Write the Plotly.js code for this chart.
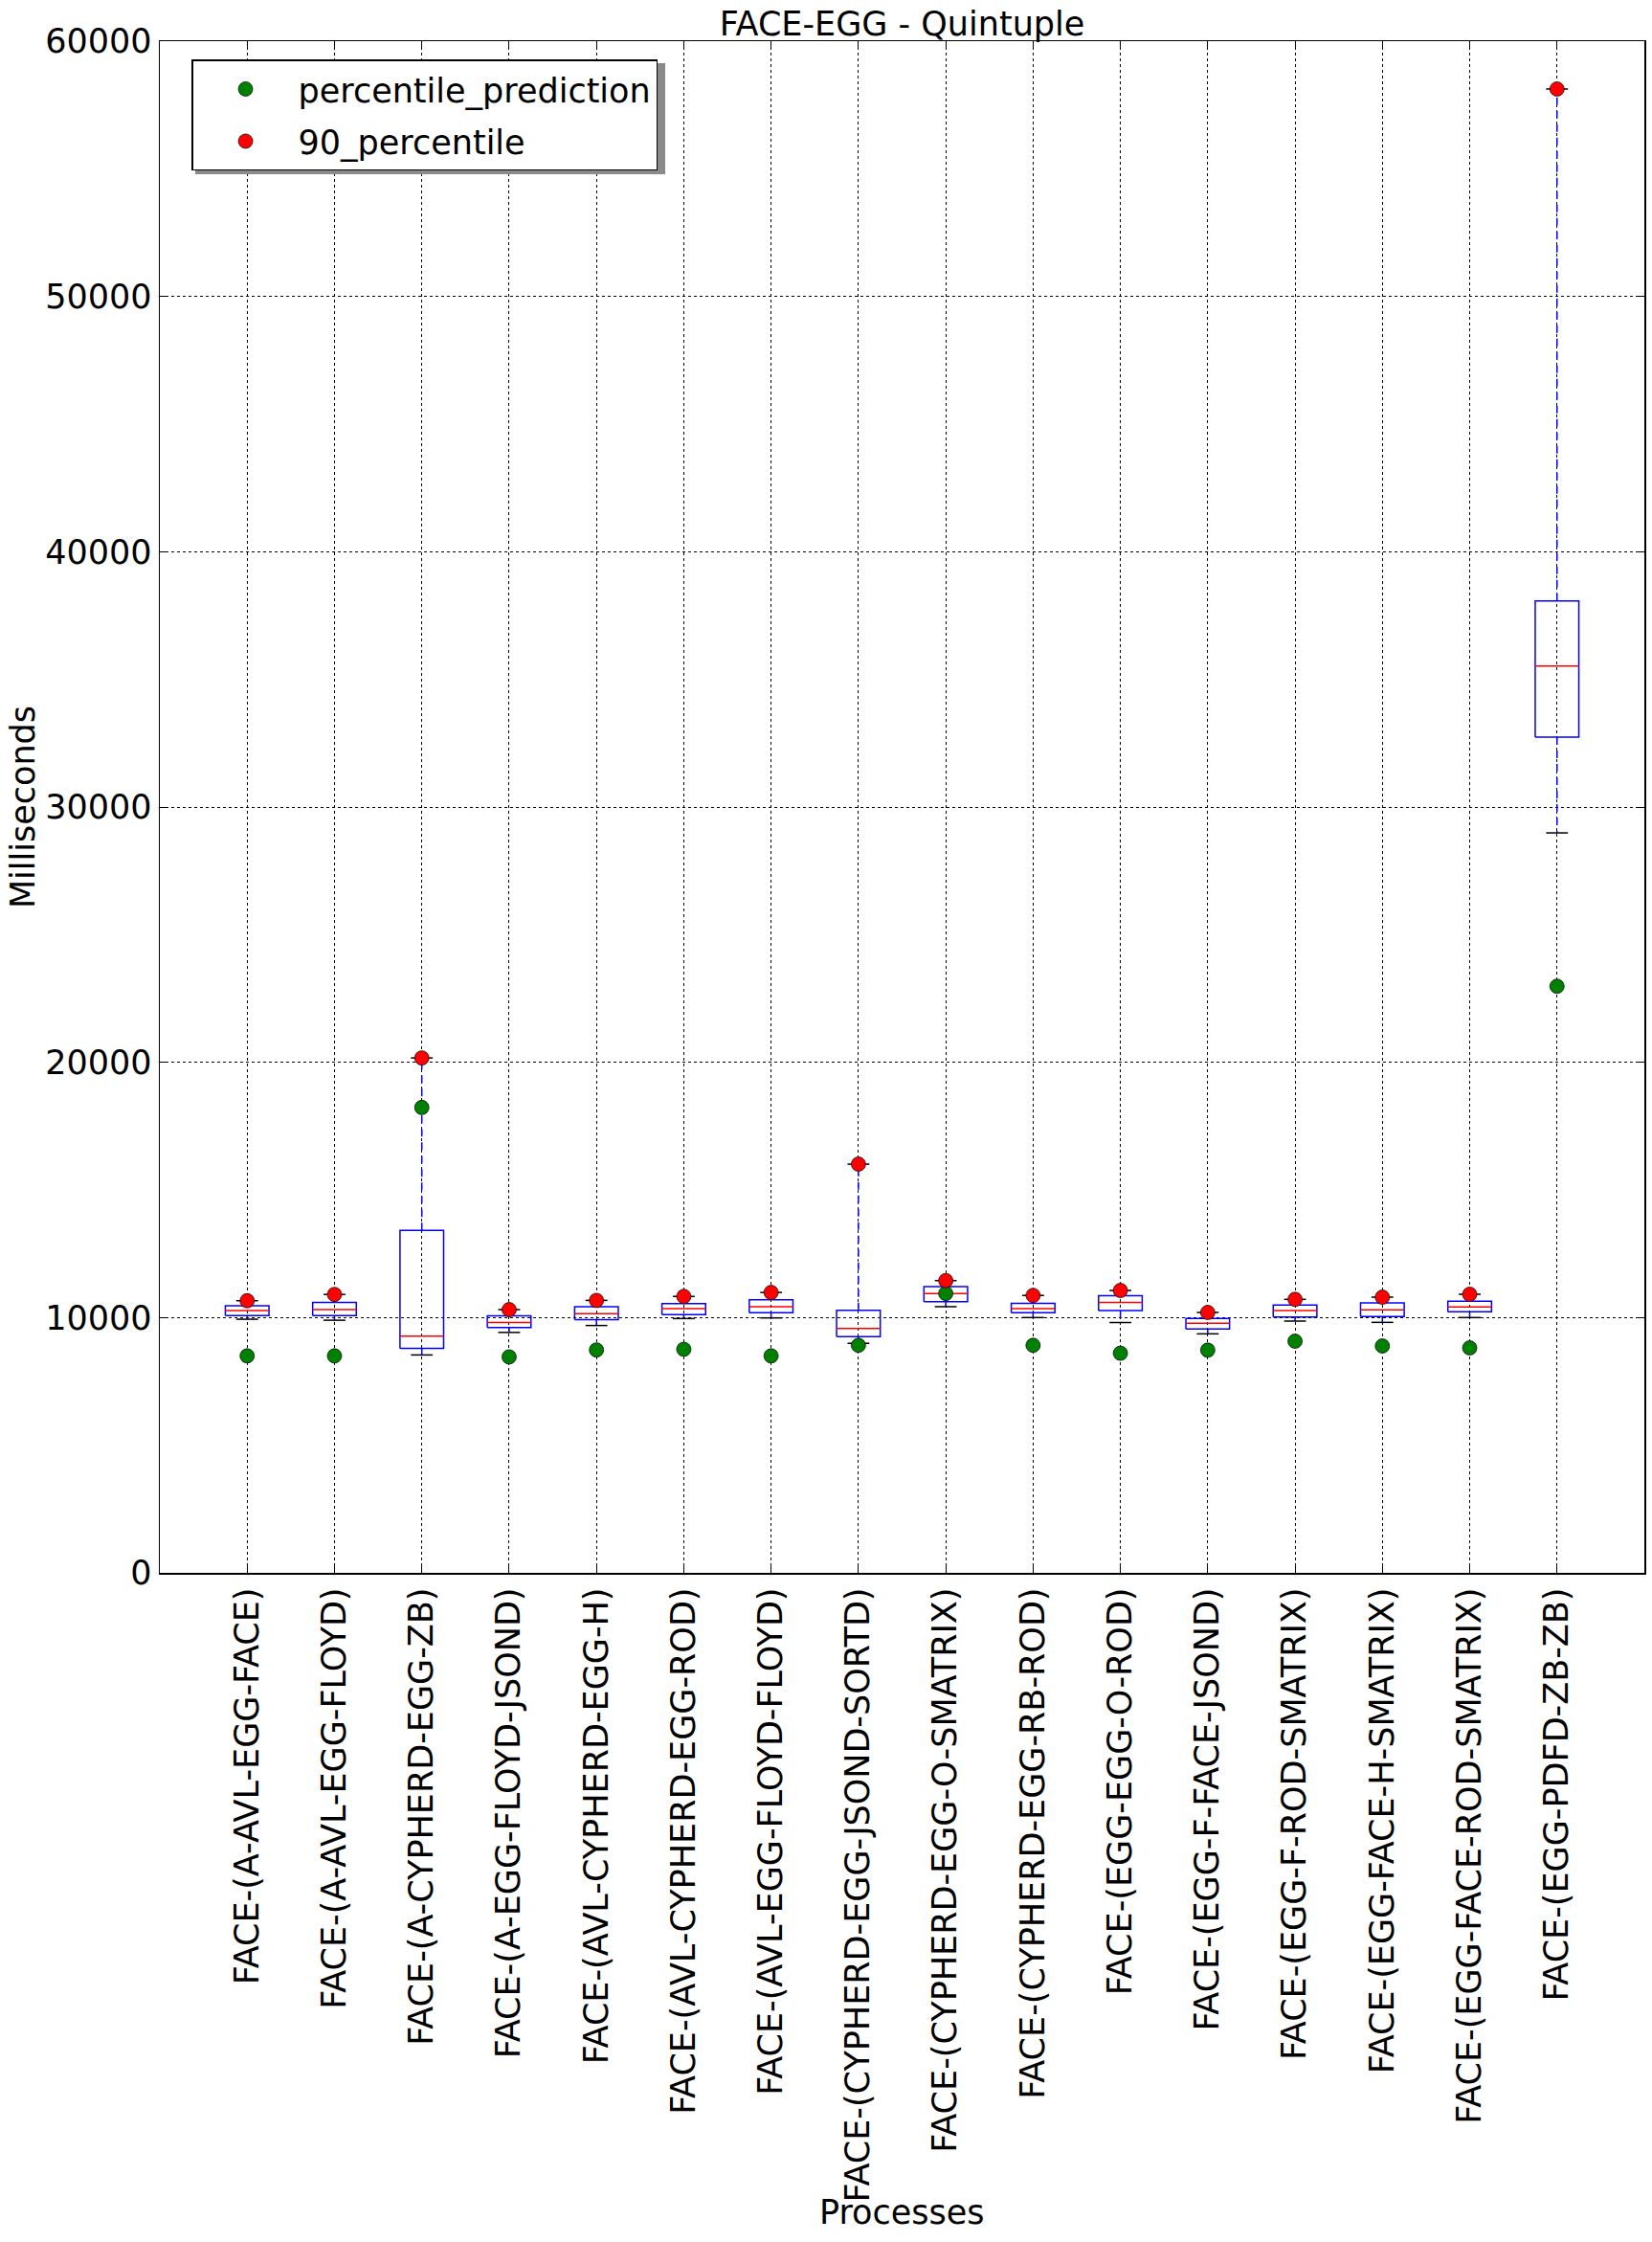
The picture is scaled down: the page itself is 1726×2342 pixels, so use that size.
<!DOCTYPE html>
<html>
<head>
<meta charset="utf-8">
<script src="https://cdn.plot.ly/plotly-3.0.1.min.js"></script>
<style>html,body{margin:0;padding:0;background:#fff}</style>
</head>
<body>
<div id="chart" style="width:1726px;height:2342px"></div>
<script>
const categories = [
  "FACE-(A-AVL-EGG-FACE)",
  "FACE-(A-AVL-EGG-FLOYD)",
  "FACE-(A-CYPHERD-EGG-ZB)",
  "FACE-(A-EGG-FLOYD-JSOND)",
  "FACE-(AVL-CYPHERD-EGG-H)",
  "FACE-(AVL-CYPHERD-EGG-ROD)",
  "FACE-(AVL-EGG-FLOYD-FLOYD)",
  "FACE-(CYPHERD-EGG-JSOND-SORTD)",
  "FACE-(CYPHERD-EGG-O-SMATRIX)",
  "FACE-(CYPHERD-EGG-RB-ROD)",
  "FACE-(EGG-EGG-O-ROD)",
  "FACE-(EGG-F-FACE-JSOND)",
  "FACE-(EGG-F-ROD-SMATRIX)",
  "FACE-(EGG-FACE-H-SMATRIX)",
  "FACE-(EGG-FACE-ROD-SMATRIX)",
  "FACE-(EGG-PDFD-ZB-ZB)"
];
const q1 =            [10078, 10078, 8790, 9612, 9922, 10116, 10194, 9249, 10621, 10194, 10272, 9550, 10025, 10038, 10225, 32741];
const medians =       [10272, 10311, 9275, 9806, 10155, 10349, 10427, 9573, 10945, 10349, 10595, 9775, 10275, 10300, 10413, 35520];
const q3 =            [10466, 10595, 13415, 10065, 10427, 10543, 10699, 10285, 11216, 10556, 10854, 9962, 10488, 10575, 10638, 38073];
const lowerWhisker =  [9935, 9896, 8535, 9418, 9689, 9961, 9987, 8991, 10427, 10000, 9806, 9362, 9862, 9812, 10000, 28986];
const upperWhisker =  [10660, 10906, 20170, 10311, 10673, 10828, 10983, 16010, 11449, 10867, 11061, 10200, 10713, 10800, 10913, 58126];
const percentile90 =  [10660, 10906, 20170, 10311, 10673, 10828, 10983, 16010, 11449, 10867, 11061, 10200, 10713, 10800, 10913, 58126];
const percentilePrediction = [8499, 8499, 18230, 8460, 8732, 8758, 8499, 8913, 10945, 8913, 8602, 8724, 9074, 8887, 8812, 22978];
const yTicks = [0, 10000, 20000, 30000, 40000, 50000, 60000];

const positions = categories.map((c, i) => i + 1);
const boxHalf = 0.25, capHalf = 0.125;

const boxX = [], boxY = [], whX = [], whY = [], capX = [], capY = [], medX = [], medY = [];
positions.forEach((p, i) => {
  boxX.push(p - boxHalf, p + boxHalf, p + boxHalf, p - boxHalf, p - boxHalf, null);
  boxY.push(q1[i], q1[i], q3[i], q3[i], q1[i], null);
  whX.push(p, p, null, p, p, null);
  whY.push(q3[i], upperWhisker[i], null, q1[i], lowerWhisker[i], null);
  capX.push(p - capHalf, p + capHalf, null, p - capHalf, p + capHalf, null);
  capY.push(upperWhisker[i], upperWhisker[i], null, lowerWhisker[i], lowerWhisker[i], null);
  medX.push(p - boxHalf, p + boxHalf, null);
  medY.push(medians[i], medians[i], null);
});

const FONT = "DejaVu Sans, Verdana, sans-serif";

const traces = [
  {type: "scatter", mode: "lines", x: whX, y: whY, line: {color: "blue", width: 1.5, dash: "8px,6px"}, showlegend: false, hoverinfo: "skip"},
  {type: "scatter", mode: "lines", x: boxX, y: boxY, line: {color: "blue", width: 1.5}, showlegend: false, hoverinfo: "skip"},
  {type: "scatter", mode: "lines", x: capX, y: capY, line: {color: "black", width: 1.5}, showlegend: false, hoverinfo: "skip"},
  {type: "scatter", mode: "lines", x: medX, y: medY, line: {color: "red", width: 1.5}, showlegend: false, hoverinfo: "skip"},
  {type: "scatter", mode: "markers", name: "percentile_prediction", legendgroup: "a", x: positions, y: percentilePrediction,
   marker: {color: "green", size: 15, line: {color: "black", width: 0.7}}},
  {type: "scatter", mode: "markers", name: "90_percentile", legendgroup: "b", x: positions, y: percentile90,
   marker: {color: "red", size: 15, line: {color: "black", width: 0.7}}}
];

const axisCommon = {
  showline: true, linecolor: "black", linewidth: 1.5, mirror: "allticks",
  ticks: "inside", ticklen: 7, tickwidth: 1, tickcolor: "black",
  showgrid: true, gridcolor: "black", gridwidth: 1, griddash: "dot",
  zeroline: false, automargin: false,
  tickfont: {family: FONT, size: 35, color: "black"}
};

const layout = {
  width: 1726, height: 2342,
  margin: {l: 167, r: 8, t: 43, b: 699, pad: 0},
  paper_bgcolor: "white", plot_bgcolor: "white",
  font: {family: FONT, size: 35, color: "black"},
  title: {text: "FACE-EGG - Quintuple", font: {family: FONT, size: 35, color: "black"},
          x: 0.5, xref: "paper", y: 1, yref: "paper", yanchor: "bottom", pad: {b: 6}},
  xaxis: Object.assign({}, axisCommon, {
    range: [0, categories.length + 1],
    tickmode: "array", tickvals: positions, ticktext: categories, tickangle: -90
  }),
  yaxis: Object.assign({}, axisCommon, {
    range: [0, 60000], tickmode: "array", tickvals: yTicks, ticktext: yTicks.map(String),
    title: {text: "Milliseconds", font: {family: FONT, size: 35, color: "black"}, standoff: 0}
  }),
  showlegend: true,
  legend: {x: 0.0213, y: 0.988, xanchor: "left", yanchor: "top", bgcolor: "white",
           bordercolor: "black", borderwidth: 1.5, font: {family: FONT, size: 35, color: "black"},
           itemwidth: 100, traceorder: "grouped", tracegroupgap: 6},
  shapes: [{type: "rect", xref: "paper", yref: "paper", layer: "above",
            x0: (204 - 167) / 1551, x1: (695 - 167) / 1551,
            y0: (1643 - 182) / 1600, y1: (1643 - 66) / 1600,
            fillcolor: "#8a8a8a", line: {width: 0}}],
  annotations: [{text: "Processes", xref: "paper", yref: "paper", x: 0.5, y: -0.4175,
                 xanchor: "center", yanchor: "middle", showarrow: false,
                 font: {family: FONT, size: 35, color: "black"}}]
};

Plotly.newPlot("chart", traces, layout, {displayModeBar: false, staticPlot: true});
</script>
</body>
</html>
